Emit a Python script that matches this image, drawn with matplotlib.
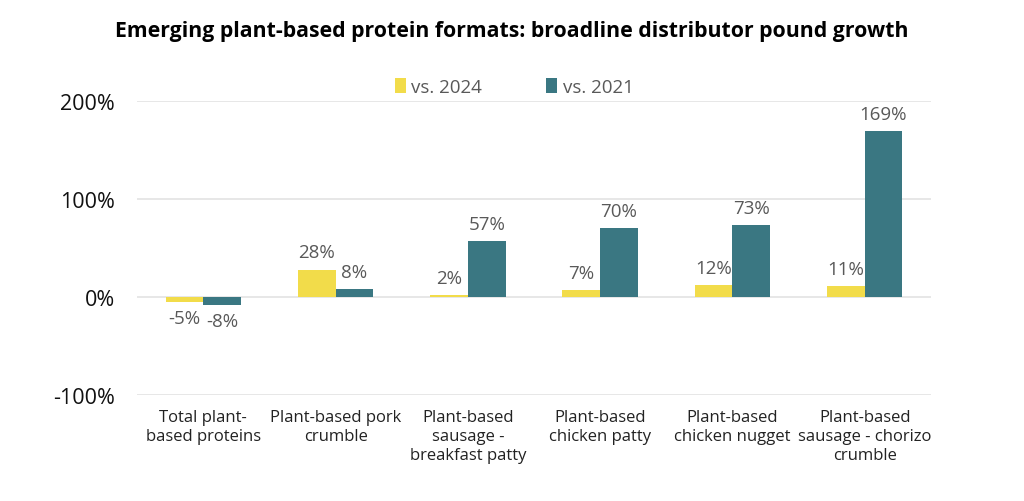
import matplotlib
matplotlib.use("Agg")
import matplotlib.pyplot as plt
import numpy as np

categories = ["Total plant-\nbased proteins", "Plant-based pork\ncrumble", "Plant-based\nsausage -\nbreakfast patty",
              "Plant-based\nchicken patty", "Plant-based\nchicken nugget", "Plant-based\nsausage - chorizo\ncrumble"]
vs_2024 = [-5, 28, 2, 7, 12, 11]
vs_2021 = [-8, 8, 57, 70, 73, 169]
series_names = ["vs. 2024", "vs. 2021"]
colors = ["#F2DC4A", "#3A7782"]

plt.rcParams['font.family'] = ['Open Sans', 'DejaVu Sans']
fig = plt.figure(figsize=(10.24, 5.02), dpi=100)
ax = fig.add_axes([0.134, 0.211, 0.775, 0.586])

x = np.arange(len(categories))
w = 0.285
b1 = ax.bar(x - w/2, vs_2024, w, color=colors[0], label=series_names[0], zorder=3)
b2 = ax.bar(x + w/2, vs_2021, w, color=colors[1], label=series_names[1], zorder=3)

for bars, vals in ((b1, vs_2024), (b2, vs_2021)):
    for r, v in zip(bars, vals):
        cx = r.get_x() + r.get_width()/2
        if v >= 0:
            ax.annotate(f"{v}%", (cx, v), xytext=(0, 6), textcoords="offset points",
                        ha="center", va="bottom", fontsize=13.5, color="#595959")
        else:
            ax.annotate(f"{v}%", (cx, v), xytext=(0, -5), textcoords="offset points",
                        ha="center", va="top", fontsize=13.5, color="#595959")

ax.set_ylim(-100, 200)
ax.set_xlim(-0.5, len(categories) - 0.5)
ax.set_yticks([-100, 0, 100, 200])
ax.set_yticklabels([f"{t}%" for t in [-100, 0, 100, 200]], fontsize=15.5, color="#111111")
ax.set_xticks(x)
ax.set_xticklabels(categories, fontsize=12, color="#222222", linespacing=1.25)
ax.tick_params(axis='both', length=0)
ax.tick_params(axis='y', pad=16)
ax.tick_params(axis='x', pad=10)
ax.yaxis.grid(True, color="#E3E3E3", linewidth=1.2, zorder=0)
for s in ax.spines.values():
    s.set_visible(False)

leg = ax.legend(loc="lower center", bbox_to_anchor=(0.475, 0.96), ncol=2, frameon=False,
                fontsize=13.5, handlelength=0.6, handleheight=0.9, handletextpad=0.3, columnspacing=3.4)
for t in leg.get_texts():
    t.set_color("#595959")

fig.text(0.5, 0.938, "Emerging plant-based protein formats: broadline distributor pound growth",
         ha="center", va="center", fontsize=15.3, fontweight="bold", color="#000000")

fig.savefig("out.png", dpi=100)
